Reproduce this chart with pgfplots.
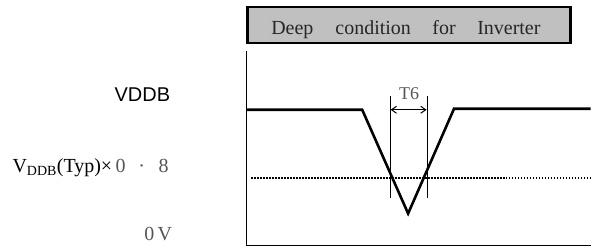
\documentclass[border=0pt]{standalone}
\usepackage{fontspec}
\setmainfont{Liberation Serif}
\newfontfamily\sansf{Liberation Sans}
\usepackage{pgfplots}
\pgfplotsset{compat=1.18}
\usetikzlibrary{arrows.meta}
\definecolor{boxgray}{HTML}{C0C0C0}
\definecolor{txtgray}{HTML}{555555}
\begin{document}
\begin{tikzpicture}
\begin{axis}[
  width=592pt, height=248pt, scale only axis,
  xmin=0, xmax=592, ymin=0, ymax=248,
  hide axis, clip=false,
]
\path (rel axis cs:0,0) rectangle (rel axis cs:1,1);
% header box
\addplot[draw=black, line width=2.6pt, fill=boxgray] coordinates {(248,241) (572,241) (572,205) (248,205)} -- cycle;
\node[anchor=base, font=\fontsize{20}{20}\selectfont, text=black!85] at (axis cs:293,213) {Deep};
\node[anchor=base, font=\fontsize{20}{20}\selectfont, text=black!85] at (axis cs:374,213) {condition};
\node[anchor=base, font=\fontsize{20}{20}\selectfont, text=black!85] at (axis cs:445,213) {for};
\node[anchor=base, font=\fontsize{20}{20}\selectfont, text=black!85] at (axis cs:510,213) {Inverter};
% axes lines
\addplot[black, line width=1.3pt] coordinates {(247,197) (247,2) (592,2)};
% signal
\addplot[black, line width=2.6pt, line join=miter] coordinates {(247,138) (363,138) (409,34) (455,139) (592,139)};
% dotted threshold
\addplot[black, line width=1.8pt, dash pattern=on 1.6pt off 1.4pt] coordinates {(252,70) (592,70)};
% T6 markers
\addplot[black, line width=1pt] coordinates {(391,152) (391,50)};
\addplot[black, line width=1pt] coordinates {(428,152) (428,50)};
\addplot[black, line width=1pt, {Straight Barb[length=5pt,width=7pt]}-{Straight Barb[length=5pt,width=7pt]}] coordinates {(391.5,138) (427.5,138)};
\node[anchor=base, font=\fontsize{18}{18}\selectfont, text=txtgray] at (axis cs:410,148) {T6};
% left labels
\node[anchor=base east, font=\sansf\fontsize{20}{20}\selectfont] at (axis cs:174,146) {VDDB};
\node[anchor=base west, font=\fontsize{20}{20}\selectfont] at (axis cs:9,75.5) {V\textsubscript{DDB}(Typ)×};
\node[anchor=base, font=\fontsize{20}{20}\selectfont, text=txtgray] at (axis cs:121,75.5) {0};
\node[anchor=base, font=\fontsize{20}{20}\selectfont, text=txtgray] at (axis cs:142,75.5) {·};
\node[anchor=base, font=\fontsize{20}{20}\selectfont, text=txtgray] at (axis cs:164,75.5) {8};
\node[anchor=base east, font=\fontsize{20}{20}\selectfont, text=txtgray] at (axis cs:176,6.5) {0\,V};
\end{axis}
\end{tikzpicture}
\end{document}
